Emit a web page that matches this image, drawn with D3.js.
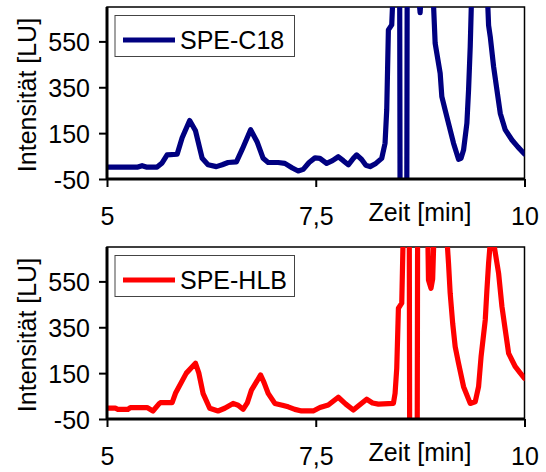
<!DOCTYPE html>
<html>
<head>
<meta charset="utf-8">
<script src="https://cdn.jsdelivr.net/npm/d3@7"></script>
<style>
  html, body { margin: 0; padding: 0; background: #fff; }
  svg { display: block; }
  text { font-family: "Liberation Sans", Arial, sans-serif; fill: #000; }
</style>
</head>
<body>
<svg id="chart" width="546" height="472"></svg>
<script>
// ---- data ----
const xTicks = [5, 7.5, 10];
const yTicks = [-50, 150, 350, 550];
const xTitle = "Zeit [min]";
const yTitle = "Intensität [LU]";

const c18Name = "SPE-C18";
const c18Time = [5.00, 5.37, 5.42, 5.47, 5.60, 5.66, 5.72, 5.84, 5.90, 5.99, 6.06, 6.14, 6.21, 6.31, 6.38, 6.45, 6.55, 6.62, 6.72, 6.80, 6.87, 6.93, 7.05, 7.13, 7.22, 7.29, 7.35, 7.42, 7.49, 7.55, 7.63, 7.70, 7.77, 7.83, 7.89, 7.95, 7.99, 8.05, 8.10, 8.15, 8.22, 8.29, 8.33, 8.35, 8.37, 8.41, 8.43, 8.505, 8.51, 8.59, 8.595, 8.72, 8.75, 8.77, 8.90, 8.93, 8.99, 9.01, 9.05, 9.09, 9.15, 9.21, 9.24, 9.27, 9.31, 9.33, 9.35, 9.37, 9.55, 9.57, 9.59, 9.63, 9.67, 9.71, 9.77, 9.85, 9.92, 10.00];
const c18Value = [2, 2, 8, 2, 2, 20, 55, 58, 130, 205, 160, 40, 12, 4, 12, 22, 25, 80, 165, 110, 40, 22, 22, 18, -2, -15, -8, 22, 42, 40, 18, 30, 47, 30, 12, 40, 55, 35, 10, 4, 18, 40, 106, 251, 600, 622, 800, 800, -200, -200, 800, 800, 675, 800, 800, 542, 411, 309, 250, 193, 106, 36, 40, 76, 193, 338, 527, 800, 800, 620, 570, 440, 338, 236, 164, 120, 90, 59];

const hlbName = "SPE-HLB";
const hlbTime = [5.00, 5.10, 5.13, 5.25, 5.28, 5.48, 5.55, 5.62, 5.64, 5.78, 5.82, 5.95, 6.06, 6.10, 6.15, 6.23, 6.33, 6.41, 6.51, 6.57, 6.63, 6.68, 6.73, 6.84, 6.88, 6.93, 7.01, 7.10, 7.17, 7.25, 7.33, 7.47, 7.55, 7.65, 7.77, 7.86, 7.95, 8.02, 8.11, 8.18, 8.25, 8.43, 8.45, 8.47, 8.49, 8.53, 8.55, 8.62, 8.625, 8.715, 8.72, 8.84, 8.85, 8.88, 8.90, 8.92, 9.06, 9.09, 9.11, 9.14, 9.17, 9.21, 9.27, 9.35, 9.41, 9.45, 9.48, 9.53, 9.55, 9.57, 9.59, 9.60, 9.63, 9.69, 9.73, 9.77, 9.81, 9.89, 9.95, 10.00];
const hlbValue = [-3, -3, -8, -8, 0, 0, -15, 15, 21, 21, 62, 150, 193, 150, 62, -3, -15, -3, 18, 10, -8, 20, 76, 142, 110, 62, 18, 10, 3, -8, -15, -15, 0, 11, 45, 15, -11, 10, 36, 20, 15, 18, 62, 171, 433, 455, 800, 800, -200, -200, 800, 800, 556, 520, 560, 800, 800, 629, 498, 367, 265, 193, 91, 18, 25, 91, 222, 382, 513, 629, 720, 730, 720, 585, 440, 338, 236, 178, 150, 127];

// ---- drawing ----
const svg = d3.select("#chart");
const fontSize = 25;
const fontFam = '"Liberation Sans", Arial, sans-serif';

function panel(offY, times, values, color, name, idx) {
  const left = 107, right = 524.5, top = 7 + offY, bottom = 179 + offY;
  const x = d3.scaleLinear().domain([5, 10]).range([left, right]);
  const y = d3.scaleLinear().domain([-50, 700]).range([bottom, top]);
  const g = svg.append("g");

  const clipId = "clip" + idx;
  svg.append("clipPath").attr("id", clipId)
    .append("rect").attr("x", left).attr("y", top)
    .attr("width", right - left).attr("height", bottom - top);

  g.append("rect").attr("x", left).attr("y", top)
    .attr("width", right - left).attr("height", bottom - top)
    .attr("fill", "none").attr("stroke", "#000").attr("stroke-width", 1.5);

  const pts = times.map((t, i) => [t, values[i]]);
  const line = d3.line().x(d => x(d[0])).y(d => y(d[1]));
  g.append("path").datum(pts)
    .attr("d", line)
    .attr("fill", "none")
    .attr("stroke", color)
    .attr("stroke-width", 5.2)
    .attr("stroke-linejoin", "round")
    .attr("stroke-linecap", "round")
    .attr("clip-path", "url(#" + clipId + ")");

  const yAxis = d3.axisLeft(y).tickValues(yTicks).tickSize(8).tickPadding(9)
    .tickFormat(d => String(d));
  const ya = g.append("g").attr("transform", `translate(${left},0)`).call(yAxis);
  ya.select(".domain").attr("stroke-width", 3).attr("d", `M0,${top}V${bottom}`);
  ya.selectAll(".tick line").attr("stroke-width", 2);
  ya.selectAll(".tick text").style("font-size", fontSize + "px")
    .style("font-family", fontFam).attr("dy", "0.36em");

  const xAxis = d3.axisBottom(x).tickValues(xTicks).tickSize(8).tickPadding(0)
    .tickFormat(d => String(d).replace(".", ","));
  const xa = g.append("g").attr("transform", `translate(0,${bottom})`).call(xAxis);
  xa.select(".domain").attr("stroke-width", 3).attr("d", `M${left},0H${right}`);
  xa.selectAll(".tick line").attr("stroke-width", 2);
  xa.selectAll(".tick text").style("font-size", fontSize + "px")
    .style("font-family", fontFam)
    .attr("y", 46).attr("dy", 0);

  g.append("text").attr("x", 420).attr("y", 221 + offY)
    .attr("text-anchor", "middle").style("font-size", fontSize + "px").text(xTitle);
  g.append("text").attr("transform", `translate(36,${95 + offY}) rotate(-90)`)
    .attr("text-anchor", "middle").style("font-size", fontSize + "px").text(yTitle);

  g.append("rect").attr("x", 115).attr("y", 15.5 + offY).attr("width", 179.5).attr("height", 41)
    .attr("fill", "#fff").attr("stroke", "#444").attr("stroke-width", 1);
  g.append("line").attr("x1", 123).attr("x2", 175).attr("y1", 40 + offY).attr("y2", 40 + offY)
    .attr("stroke", color).attr("stroke-width", 5.2);
  g.append("text").attr("x", 180).attr("y", 48.5 + offY)
    .style("font-size", fontSize + "px").text(name);
}

panel(0, c18Time, c18Value, "#000080", c18Name, 0);
panel(240, hlbTime, hlbValue, "#ff0000", hlbName, 1);
</script>
</body>
</html>
